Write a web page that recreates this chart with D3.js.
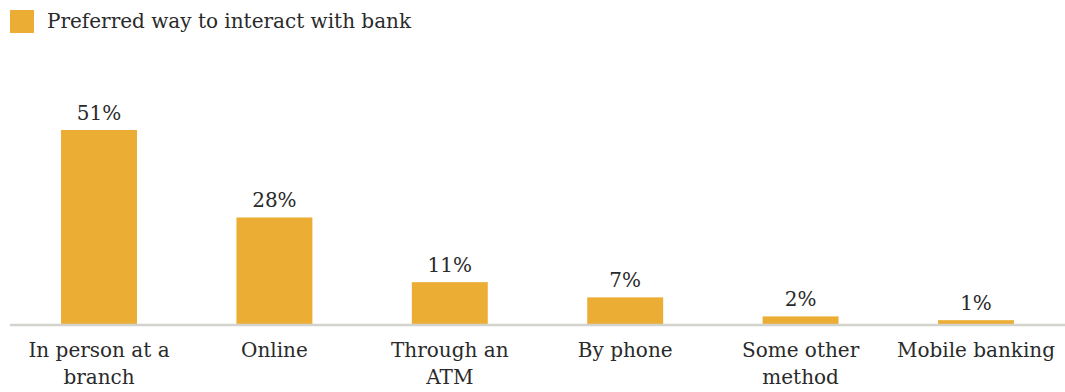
<!DOCTYPE html>
<html>
<head>
<meta charset="utf-8">
<script src="https://cdn.jsdelivr.net/npm/d3@7"></script>
<style>
  body { margin: 0; background: #fff; }
  text { font-family: "DejaVu Serif", serif; fill: #2a2a2a; }
</style>
</head>
<body>
<div id="chart"></div>
<script>
// Data
const categories = ["In person at a branch", "Online", "Through an ATM", "By phone", "Some other method", "Mobile banking"];
const tickLabels = [["In person at a", "branch"], ["Online"], ["Through an", "ATM"], ["By phone"], ["Some other", "method"], ["Mobile banking"]];
const values = [51, 28, 11, 7, 2, 1];
const seriesName = "Preferred way to interact with bank";

const width = 1065, height = 392;
const barColor = "#ecad34";
const fontSize = "20px";

const svg = d3.select("#chart")
    .append("svg")
    .attr("width", width)
    .attr("height", height);

// Legend
svg.append("rect")
    .attr("x", 10).attr("y", 10)
    .attr("width", 24).attr("height", 23)
    .attr("fill", barColor);
svg.append("text")
    .attr("x", 47).attr("y", 28)
    .style("font-size", fontSize)
    .text(seriesName);

// Scales
let x = d3.scaleBand()
    .domain(categories)
    .range([11.3, 1063.7])
    .paddingInner(0.567)
    .paddingOuter(0.2835);

let baseline = 324;
let y = d3.scaleLinear()
    .domain([0, 51])
    .range([baseline, 130]);

// Bars
svg.selectAll(".bar")
    .data(values)
    .enter()
    .append("rect")
    .attr("class", "bar")
    .attr("x", (d, i) => x(categories[i]))
    .attr("y", d => y(d))
    .attr("width", x.bandwidth())
    .attr("height", d => baseline - y(d))
    .attr("fill", barColor);

// Value labels
svg.selectAll(".val")
    .data(values)
    .enter()
    .append("text")
    .attr("class", "val")
    .attr("x", (d, i) => x(categories[i]) + x.bandwidth() / 2)
    .attr("y", d => y(d) - 10)
    .attr("text-anchor", "middle")
    .style("font-size", fontSize)
    .text(d => d + "%");

// Axis line
svg.append("line")
    .attr("x1", 10).attr("x2", width)
    .attr("y1", baseline + 1).attr("y2", baseline + 1)
    .attr("stroke", "#d3d3cd")
    .attr("stroke-width", 2.5);

// Category labels
let ticks = svg.selectAll(".tick-label")
    .data(categories)
    .enter()
    .append("text")
    .attr("class", "tick-label")
    .attr("x", d => x(d) + x.bandwidth() / 2)
    .attr("y", 357)
    .attr("text-anchor", "middle")
    .style("font-size", fontSize);

ticks.each(function(d, i) {
    d3.select(this).selectAll("tspan")
        .data(tickLabels[i])
        .enter()
        .append("tspan")
        .attr("x", x(d) + x.bandwidth() / 2)
        .attr("dy", (t, j) => j === 0 ? 0 : 27)
        .text(t => t);
});
</script>
</body>
</html>
